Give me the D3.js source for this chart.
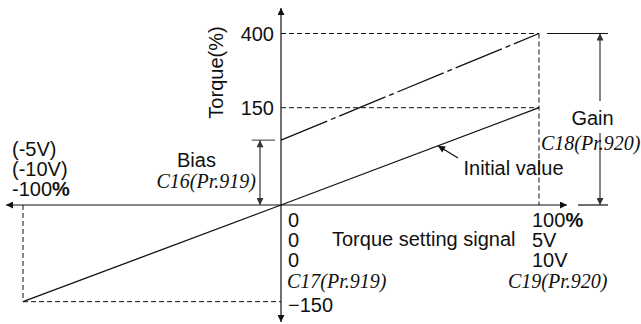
<!DOCTYPE html>
<html>
<head>
<meta charset="utf-8">
<script src="https://cdn.jsdelivr.net/npm/d3@7/dist/d3.min.js"></script>
<style>
    html, body { margin: 0; padding: 0; background: #fff; }
    svg { display: block; }
    .sans { font-family: "Liberation Sans", Arial, sans-serif; font-size: 20px; fill: #111; }
    .serif { font-family: "Liberation Serif", "Times New Roman", serif; font-size: 20px; font-style: italic; fill: #111; }
</style>
</head>
<body>
<svg id="chart" width="641" height="324"></svg>
<script>
// torque setting signal (%) vs torque (%)
var signalPct = [-100, 0, 100];
var initialTorque = [-150, 0, 150];
var adjustedPct = [0, 100];
var adjustedTorque = [100, 400];   // bias C16 -> gain C18
var yTicks = [150, 400];
var yTickBottom = [-150];
var leftLabels = ["(-5V)", "(-10V)", "-100"];
var zeroLabels = ["0", "0", "0"];
var rightLabels = ["100", "5V", "10V"];

(function(){
    var svg = d3.select("#chart");
    var ink = "#111";

    // x is linear, y is drawn compressed above 150 like the original sketch
    var x = d3.scaleLinear().domain([-100, 0, 100]).range([23, 281, 539]);
    var y = d3.scaleLinear().domain([-150, 0, 150, 400]).range([301.7, 205, 107.7, 33.5]);

    var defs = svg.append("defs");
    function marker(id, color){
        defs.append("marker")
            .attr("id", id)
            .attr("viewBox", "0 0 10 10")
            .attr("refX", 10).attr("refY", 5)
            .attr("markerWidth", 9).attr("markerHeight", 7)
            .attr("markerUnits", "userSpaceOnUse")
            .attr("orient", "auto-start-reverse")
            .append("path")
            .attr("d", "M0,0 L10,5 L0,10 z")
            .style("fill", color);
    }
    marker("arr", ink);
    marker("arrGray", "#333");

    function line(x1, y1, x2, y2){
        return svg.append("line")
            .attr("x1", x1).attr("y1", y1)
            .attr("x2", x2).attr("y2", y2)
            .style("stroke", ink)
            .style("stroke-width", 1.2);
    }

    // guide lines (dashed)
    var dash = "5,3";
    line(x(0), y(400), x(100), y(400)).style("stroke-dasharray", dash).style("stroke-width", 1);
    line(x(0), y(150), x(100), y(150)).style("stroke-dasharray", dash).style("stroke-width", 1);
    line(x(100), y(400), x(100), y(0)).style("stroke-dasharray", dash).style("stroke-width", 1);
    line(x(-100), y(0), x(-100), y(-150)).style("stroke-dasharray", dash).style("stroke-width", 1);
    line(x(-100), y(-150), x(0), y(-150)).style("stroke-dasharray", dash).style("stroke-width", 1);

    // axes
    line(x(0), 322, x(0), 8).attr("marker-start", "url(#arr)").attr("marker-end", "url(#arr)");
    line(6, y(0), 567, y(0)).attr("marker-start", "url(#arr)").attr("marker-end", "url(#arr)");

    var yAxis = d3.axisLeft(y).tickValues(yTicks).tickSize(0).tickPadding(7);
    var gy = svg.append("g").attr("transform", "translate(" + x(0) + ",0)").call(yAxis);
    gy.select(".domain").remove();
    gy.selectAll("text").attr("class", "sans").attr("fill", null).attr("dy", "0.34em");

    var yAxisB = d3.axisRight(y).tickValues(yTickBottom).tickSize(0).tickPadding(7);
    var gb = svg.append("g").attr("transform", "translate(" + x(0) + ",3)").call(yAxisB);
    gb.select(".domain").remove();
    gb.selectAll("text").attr("class", "sans").attr("fill", null).attr("dy", "0.34em");

    // data lines
    var path = d3.line().x(function(d){ return x(d[0]); }).y(function(d){ return y(d[1]); });
    svg.append("path")
        .attr("d", path(d3.zip(signalPct, initialTorque)))
        .style("fill", "none").style("stroke", ink).style("stroke-width", 1.3);
    svg.append("path")
        .attr("d", path(d3.zip(adjustedPct, adjustedTorque)))
        .style("fill", "none").style("stroke", ink).style("stroke-width", 1.3)
        .style("stroke-dasharray", "50,4,5,4");

    // bias marker
    var yb = y(adjustedTorque[0]);
    line(251.7, yb, 275, yb).style("stroke", "#555");
    line(260, yb, 260, y(0)).style("stroke", "#333")
        .attr("marker-start", "url(#arrGray)").attr("marker-end", "url(#arrGray)");

    // gain marker
    line(547, y(400), 608, y(400));
    line(578, y(0), 608, y(0));
    line(600, 101, 600, y(400)).style("stroke", "#333").attr("marker-end", "url(#arrGray)");
    line(600, 133, 600, y(0)).style("stroke", "#333").attr("marker-end", "url(#arrGray)");

    // initial value pointer
    line(458, 158, 438, y(0) + (y(150) - y(0)) * (438 - x(0)) / (x(100) - x(0)))
        .attr("marker-end", "url(#arr)");

    function text(cls, tx, ty, s){
        return svg.append("text").attr("class", cls).attr("x", tx).attr("y", ty).text(s);
    }

    text("sans", 0, 0, "Torque(%)")
        .attr("text-anchor", "middle")
        .attr("transform", "translate(223,72.5) rotate(-90)");

    leftLabels.forEach(function(s, i){
        var t = text("sans", 12, 156 + i * 20, s);
        if(i == 2) t.append("tspan").style("font-weight", "bold").text("%");
    });
    zeroLabels.forEach(function(s, i){
        text("sans", x(0) + 7, 226.7 + i * 20, s);
    });
    rightLabels.forEach(function(s, i){
        var t = text("sans", 532, 226.7 + i * 20.3, s);
        if(i == 0) t.append("tspan").style("font-weight", "bold").text("%");
    });

    text("sans", 332, 246, "Torque setting signal");
    text("serif", x(0) + 6, 287.5, "C17(Pr.919)");
    text("serif", 508, 287.5, "C19(Pr.920)");
    text("sans", 177, 166.5, "Bias");
    text("serif", 156.5, 188, "C16(Pr.919)");
    text("sans", 592.5, 125, "Gain").attr("text-anchor", "middle");
    text("serif", 541, 149.5, "C18(Pr.920)");
    text("sans", 463.5, 175, "Initial value");
})();
</script>
</body>
</html>
